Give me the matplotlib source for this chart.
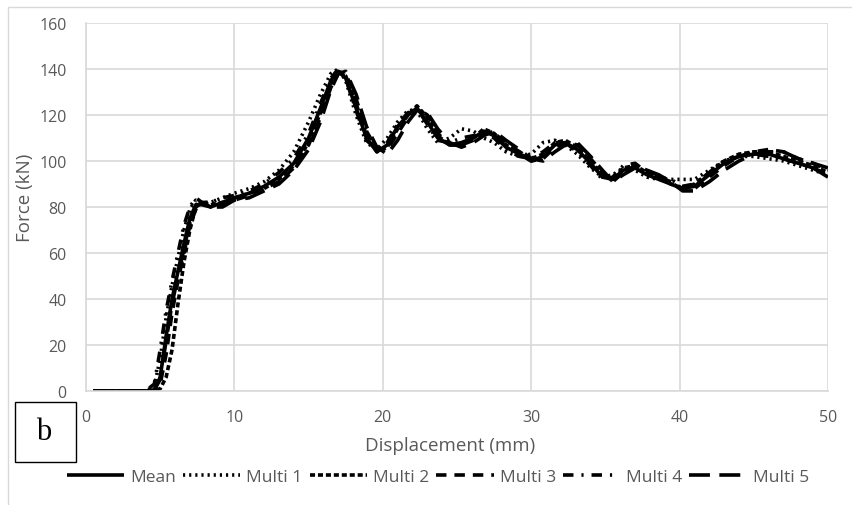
import numpy as np
import matplotlib
matplotlib.use("Agg")
import matplotlib.pyplot as plt
from matplotlib.patches import Rectangle

# displacement (mm), shared by all series
disp = [0.5, 4.0, 4.6, 5.0, 5.4, 5.8, 6.2, 6.6, 7.0, 7.4, 7.8, 8.4, 9.2, 10.0,
        11.0, 12.0, 13.0, 14.0, 15.0, 15.8, 16.5, 17.0, 17.5, 18.2, 18.9, 19.6,
        20.3, 21.0, 21.7, 22.3, 23.0, 23.7, 24.5, 25.3, 26.1, 26.8, 27.5, 28.3,
        29.2, 30.0, 30.8, 31.6, 32.3, 33.1, 34.0, 34.8, 35.5, 36.2, 37.0, 37.8,
        38.6, 39.4, 40.2, 41.0, 42.0, 43.0, 44.0, 45.0, 46.0, 47.0, 48.0, 49.0,
        50.0]

# force (kN)
mean = [0, 0, 0.5, 6, 24, 40, 52, 64, 75, 81, 81, 80, 82, 84,
        86, 89, 93, 99, 110, 123, 135, 139, 136, 123, 110, 104,
        107, 115, 120, 123, 117, 110, 107, 108, 110, 113, 111, 106,
        103, 100, 102, 107, 108, 105, 99, 93, 92, 96, 97, 94,
        92, 90, 88, 89, 94, 99, 102, 103, 103, 101, 99, 97,
        93]
multi1 = [0, 0, 2, 14, 32, 46, 58, 70, 79, 83, 82, 82, 84, 86,
          88, 91, 96, 104, 117, 129, 138, 140, 135, 120, 108, 105,
          110, 117, 122, 122, 114, 108, 110, 114, 113, 110, 108, 104,
          102, 103, 108, 109, 107, 103, 97, 93, 94, 97, 96, 93,
          92, 92, 92, 92, 96, 100, 102, 102, 101, 100, 98, 96,
          94]
multi2 = [0, 0, 0, 1, 6, 18, 38, 56, 70, 80, 82, 81, 82, 84,
          86, 88, 92, 98, 108, 121, 134, 139, 137, 125, 111, 104,
          106, 114, 120, 124, 119, 111, 107, 107, 110, 114, 112, 107,
          104, 101, 103, 108, 109, 106, 100, 94, 92, 97, 98, 95,
          93, 90, 88, 90, 95, 100, 103, 104, 104, 102, 100, 98,
          95]
multi3 = [0, 0, 0, 3, 16, 34, 48, 60, 72, 79, 82, 80, 81, 83,
          85, 88, 91, 97, 107, 119, 132, 138, 138, 127, 113, 105,
          105, 112, 119, 123, 120, 112, 107, 107, 109, 112, 112, 108,
          104, 100, 101, 106, 108, 107, 101, 95, 91, 95, 98, 96,
          93, 91, 88, 88, 93, 98, 102, 104, 105, 104, 101, 99,
          96]
multi4 = [0, 0, 3, 18, 35, 48, 60, 72, 80, 84, 82, 82, 84, 85,
          87, 90, 95, 101, 112, 125, 136, 140, 136, 122, 109, 105,
          108, 116, 121, 123, 116, 109, 108, 110, 111, 112, 110, 105,
          102, 101, 104, 108, 108, 104, 98, 92, 93, 98, 99, 95,
          93, 92, 89, 90, 95, 100, 102, 103, 102, 101, 99, 97,
          94]
multi5 = [0, 0, 0.5, 5, 22, 38, 50, 62, 73, 80, 82, 80, 80, 83,
          84, 87, 90, 96, 105, 117, 131, 138, 139, 129, 115, 106,
          103, 109, 117, 122, 121, 114, 108, 106, 108, 111, 113, 109,
          105, 101, 100, 104, 107, 108, 102, 96, 91, 94, 97, 96,
          94, 91, 87, 87, 91, 96, 100, 103, 104, 104, 101, 99,
          97]

labels = ["Mean", "Multi 1", "Multi 2", "Multi 3", "Multi 4", "Multi 5"]
series = [mean, multi1, multi2, multi3, multi4, multi5]
styles = ["-", (0, (0.6, 1.1)), (0, (1.4, 0.8)), (0, (2.9, 2.2)),
          (0, (2.9, 2.2, 0.6, 2.2)), (0, (5.8, 2.6))]

plt.rcParams["font.family"] = ["Open Sans", "DejaVu Sans"]

W, H = 853, 506
fig = plt.figure(figsize=(W / 100, H / 100), dpi=100)
ax = fig.add_axes([86 / W, 1 - 392 / H, (828 - 86) / W, (392 - 24) / H])

# outer chart frame
fig.patches.append(Rectangle((8 / W, -0.1), 1.2, 1 - 8 / H + 0.1,
                             transform=fig.transFigure, fill=False,
                             edgecolor="#d9d9d9", linewidth=1.0))

for y, lab, ls in zip(series, labels, styles):
    ax.plot(disp, y, color="black", linewidth=2.6, linestyle=ls,
            label=lab, solid_capstyle="butt", dash_capstyle="butt")

ax.set_xlim(0, 50)
ax.set_ylim(0, 160)
ax.set_xticks(np.arange(0, 51, 10))
ax.set_yticks(np.arange(0, 161, 20))
ax.grid(True, color="#d9d9d9", linewidth=1.2)
ax.set_axisbelow(True)
for side in ["top", "right"]:
    ax.spines[side].set_visible(False)
for side in ["left", "bottom"]:
    ax.spines[side].set_color("#d9d9d9")
    ax.spines[side].set_linewidth(1.2)
ax.tick_params(length=0, labelsize=11.5, labelcolor="#595959")
ax.tick_params(axis="x", pad=13)
ax.tick_params(axis="y", pad=14)

fig.text(25 / W, 1 - 198 / H, "Force (kN)", rotation=90, ha="center",
         va="center", fontsize=13.5, color="#595959")
fig.text(450 / W, 1 - 446 / H, "Displacement (mm)", ha="center",
         va="center", fontsize=13.5, color="#595959")

# panel tag
fig.patches.append(Rectangle((15 / W, 1 - 463 / H), 61 / W, 60 / H,
                             transform=fig.transFigure, fill=False,
                             edgecolor="black", linewidth=1.0))
fig.text(44 / W, 1 - 433 / H, "b", ha="center", va="center",
         fontsize=22, family="Liberation Serif", color="black")

leg = ax.legend(loc="center", bbox_to_anchor=(438 / W, 1 - 478 / H),
                bbox_transform=fig.transFigure, ncol=6, frameon=False,
                fontsize=12.5, handlelength=3.3, handletextpad=0.35,
                columnspacing=0.4, borderpad=0)
for t in leg.get_texts():
    t.set_color("#595959")

fig.savefig("out.png", dpi=100)
